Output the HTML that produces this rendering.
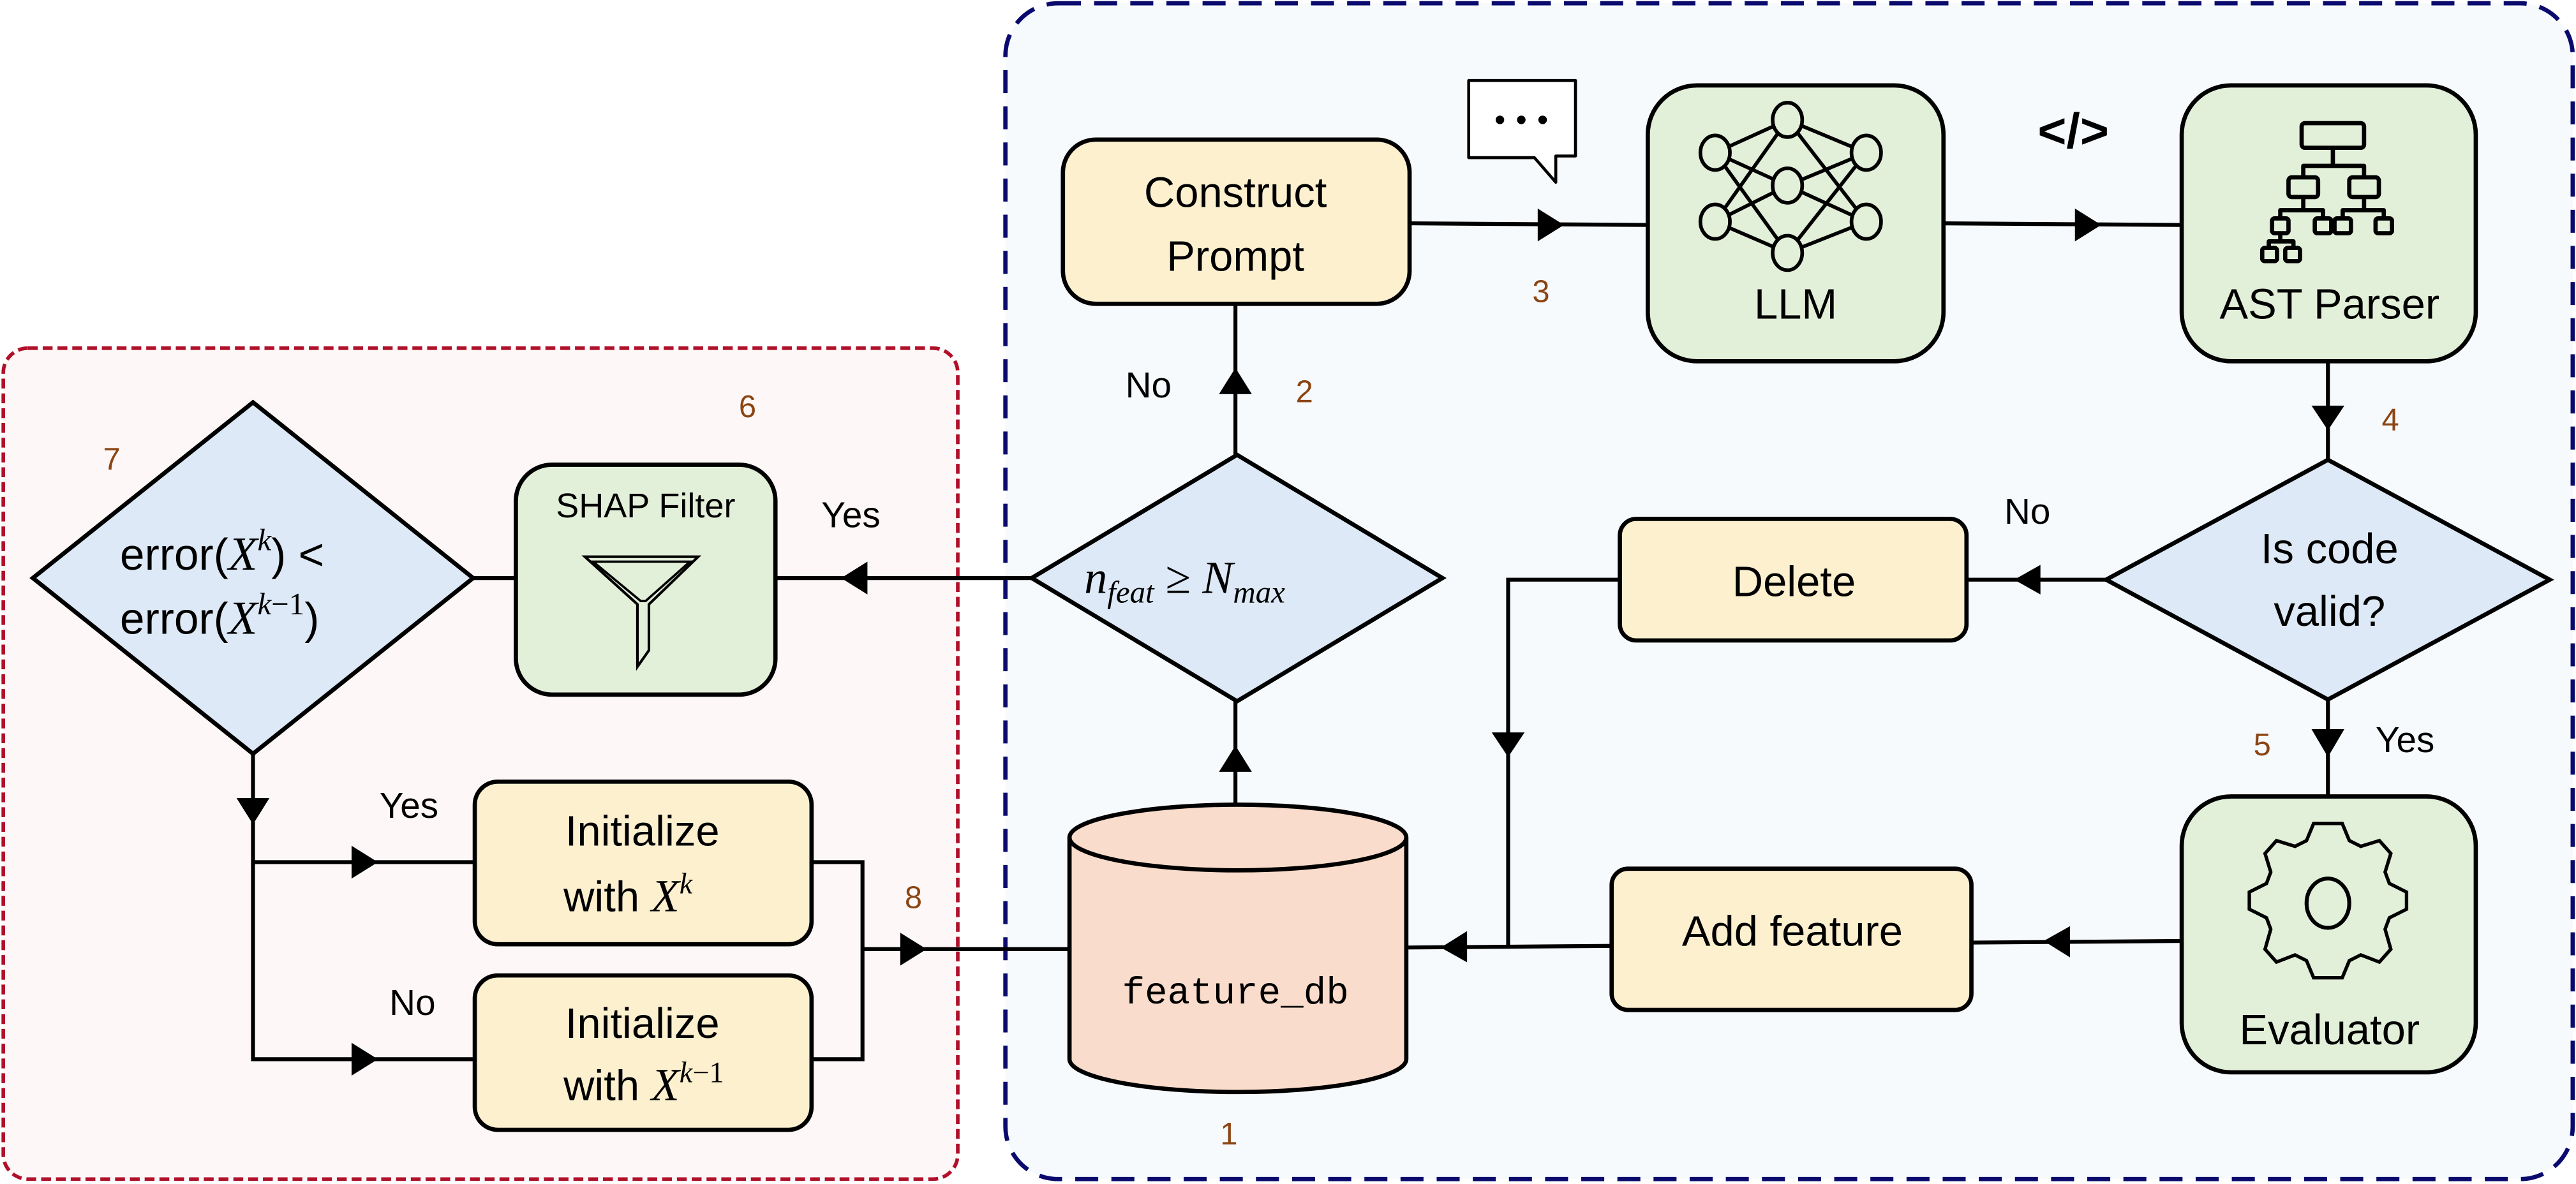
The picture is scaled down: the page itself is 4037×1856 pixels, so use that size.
<!DOCTYPE html>
<html><head><meta charset="utf-8"><style>html,body{margin:0;padding:0;background:#fff}svg{display:block}</style></head><body>
<svg width="4037" height="1856" viewBox="0 0 1568 721" preserveAspectRatio="none" xmlns="http://www.w3.org/2000/svg" font-family="Liberation Sans, sans-serif">
<!-- containers -->
<rect x="612" y="2" width="954" height="716" rx="32" fill="#f6fafd" stroke="#0a0a6e" stroke-width="2.6" stroke-dasharray="14 8"/>
<rect x="2" y="212" width="581" height="506" rx="15" fill="#fdf8f7" stroke="#b0102a" stroke-width="2.2" stroke-dasharray="6 3"/>

<g stroke="#000" stroke-width="2.4" fill="none">
<line x1="858" y1="136" x2="1003" y2="137"/>
<line x1="1183" y1="136" x2="1328" y2="137"/>
<line x1="1417" y1="220" x2="1417" y2="280"/>
<line x1="1282" y1="353" x2="1197" y2="353"/>
<polyline points="986,353 918,353 918,577"/>
<line x1="1417" y1="426" x2="1417" y2="485"/>
<line x1="1328" y1="573" x2="1200" y2="574"/>
<line x1="981" y1="576" x2="856" y2="577"/>
<line x1="752" y1="490" x2="752" y2="427"/>
<line x1="752" y1="277" x2="752" y2="185"/>
<line x1="628" y1="352" x2="472" y2="352"/>
<line x1="314" y1="352" x2="288" y2="352"/>
<polyline points="154,459 154,645 289,645"/>
<line x1="154" y1="525" x2="289" y2="525"/>
<polyline points="494,525 525,525 525,645 494,645"/>
<line x1="525" y1="578" x2="651" y2="578"/>
</g>
<g fill="#000">
<polygon points="936,127 952,137 936,147"/>
<polygon points="1263,127 1279,137 1263,147"/>
<polygon points="1407,247 1427,247 1417,262"/>
<polygon points="1242,344 1242,362 1226,353"/>
<polygon points="908,446 928,446 918,461"/>
<polygon points="1407,444 1427,444 1417,461"/>
<polygon points="1260,564 1260,583 1244,573"/>
<polygon points="893,567 893,586 877,577"/>
<polygon points="742,470 762,470 752,454"/>
<polygon points="742,240 762,240 752,224"/>
<polygon points="528,342 528,362 512,352"/>
<polygon points="144,486 164,486 154,502"/>
<polygon points="214,515 214,535 230,525"/>
<polygon points="214,635 214,655 230,645"/>
<polygon points="548,568 548,588 564,578"/>
</g>

<g stroke="#000" stroke-width="2.6">
<rect x="647" y="85" width="211" height="100" rx="20" fill="#fdf0cf"/>
<rect x="1003" y="52" width="180" height="168" rx="30" fill="#e2efd9"/>
<rect x="1328" y="52" width="179" height="168" rx="30" fill="#e2efd9"/>
<polygon points="1282,353 1417,280 1552,353 1417,426" fill="#dde9f6"/>
<rect x="986" y="316" width="211" height="74" rx="10" fill="#fdf0cf"/>
<rect x="1328" y="485" width="179" height="168" rx="30" fill="#e2efd9"/>
<rect x="981" y="529" width="219" height="86" rx="10" fill="#fdf0cf"/>
<polygon points="628,352 753,277 878,352 753,427" fill="#dde9f6"/>
<path d="M651,510 L651,645 A102.5,20 0 0 0 856,645 L856,510 A102.5,20 0 0 0 651,510 Z" fill="#f9dccb"/>
<path d="M651,510 A102.5,20 0 0 0 856,510" fill="none"/>
<rect x="314" y="283" width="158" height="140" rx="22" fill="#e2efd9"/>
<polygon points="20,352 154,245 288,352 154,459" fill="#dde9f6"/>
<rect x="289" y="476" width="205" height="99" rx="14" fill="#fdf0cf"/>
<rect x="289" y="594" width="205" height="94" rx="14" fill="#fdf0cf"/>
</g>

<path d="M894,49 H959 V95 H947 V111 L934,96 H894 Z" fill="#fff" stroke="#000" stroke-width="1.8" stroke-linejoin="round"/>
<circle cx="913" cy="73" r="2.6"/><circle cx="926" cy="73" r="2.6"/><circle cx="939" cy="73" r="2.6"/>
<text x="1262" y="90" font-size="30" font-weight="bold" text-anchor="middle">&lt;/&gt;</text>

<g stroke="#000" stroke-width="2.2" fill="none">
<line x1="1044" y1="93" x2="1088" y2="73"/><line x1="1044" y1="93" x2="1088" y2="113"/><line x1="1044" y1="93" x2="1088" y2="154"/>
<line x1="1044" y1="135" x2="1088" y2="73"/><line x1="1044" y1="135" x2="1088" y2="113"/><line x1="1044" y1="135" x2="1088" y2="154"/>
<line x1="1136" y1="93" x2="1088" y2="73"/><line x1="1136" y1="93" x2="1088" y2="113"/><line x1="1136" y1="93" x2="1088" y2="154"/>
<line x1="1136" y1="135" x2="1088" y2="73"/><line x1="1136" y1="135" x2="1088" y2="113"/><line x1="1136" y1="135" x2="1088" y2="154"/>
<g fill="#e2efd9">
<ellipse cx="1088" cy="73" rx="9" ry="10.5"/><ellipse cx="1088" cy="113" rx="9" ry="10.5"/><ellipse cx="1088" cy="154" rx="9" ry="10.5"/>
<ellipse cx="1044" cy="93" rx="9" ry="10.5"/><ellipse cx="1044" cy="135" rx="9" ry="10.5"/>
<ellipse cx="1136" cy="93" rx="9" ry="10.5"/><ellipse cx="1136" cy="135" rx="9" ry="10.5"/>
</g>
</g>

<g stroke="#000" stroke-width="2.6" fill="none" stroke-linejoin="round">
<rect x="1401" y="75" width="38" height="15" rx="2"/>
<polyline points="1420,90 1420,101"/>
<polyline points="1402,108 1402,101 1439,101 1439,108"/>
<rect x="1393" y="108" width="18" height="12" rx="2"/><rect x="1430" y="108" width="18" height="12" rx="2"/>
<line x1="1402" y1="120" x2="1402" y2="128"/><line x1="1439" y1="120" x2="1439" y2="128"/>
<polyline points="1388,133 1388,128 1414,128 1414,133"/>
<polyline points="1426,133 1426,128 1451,128 1451,133"/>
<rect x="1383" y="133" width="10" height="9" rx="1.5"/><rect x="1409" y="133" width="10" height="9" rx="1.5"/>
<rect x="1421" y="133" width="10" height="9" rx="1.5"/><rect x="1446" y="133" width="10" height="9" rx="1.5"/>
<line x1="1388" y1="142" x2="1388" y2="147"/>
<polyline points="1381,151 1381,147 1396,147 1396,151"/>
<rect x="1377" y="151" width="9" height="8" rx="1.5"/><rect x="1391" y="151" width="9" height="8" rx="1.5"/>
</g>

<g transform="translate(1417,548)">
<path d="M-10,-42 L10,-42 L15,-30 L23,-26 L36,-30 L44,-21 L40,-8 L43,0 L55,6 L55,18 L43,24 L40,32 L44,46 L36,55 L23,50 L15,54 L10,66 L-10,66 L-15,54 L-23,50 L-36,55 L-44,46 L-40,32 L-43,24 L-55,18 L-55,6 L-43,0 L-40,-8 L-44,-21 L-36,-30 L-23,-26 L-15,-30 Z" transform="translate(0,-10) scale(0.87)" fill="none" stroke="#000" stroke-width="2.4"/>
<ellipse cx="0" cy="2" rx="13" ry="15" fill="none" stroke="#000" stroke-width="2.4"/>
</g>

<!-- funnel -->
<path d="M356,339 L425,339 L395,368 L395,396 L388,406 L388,368 Z" fill="none" stroke="#000" stroke-width="1.6" stroke-linejoin="miter"/>
<path d="M361,342 L420,342 L393,366 L390,366 Z" fill="none" stroke="#000" stroke-width="1.4"/>

<g font-size="26" text-anchor="middle" fill="#000">
<text x="752" y="126">Construct</text>
<text x="752" y="165">Prompt</text>
<text x="1093" y="194">LLM</text>
<text x="1418" y="194">AST Parser</text>
<text x="1418" y="343">Is code</text>
<text x="1418" y="381">valid?</text>
<text x="1092" y="363">Delete</text>
<text x="1418" y="636">Evaluator</text>
<text x="1091" y="576">Add feature</text>
<text x="393" y="315" font-size="21">SHAP Filter</text>
<text x="391" y="515">Initialize</text>
<text x="391" y="632">Initialize</text>
</g>
<text x="752" y="611" font-size="23" text-anchor="middle" font-family="Liberation Mono, monospace">feature_db</text>
<g font-size="26">
<text x="343" y="555">with <tspan font-family="Liberation Serif, serif" font-style="italic" font-size="28">X</tspan><tspan font-family="Liberation Serif, serif" font-style="italic" font-size="18" dy="-11">k</tspan></text>
<text x="343" y="670">with <tspan font-family="Liberation Serif, serif" font-style="italic" font-size="28">X</tspan><tspan font-family="Liberation Serif, serif" font-size="18" dy="-11"><tspan font-style="italic">k</tspan>−1</tspan></text>
<text x="73" y="347" font-size="27">error(<tspan font-family="Liberation Serif, serif" font-style="italic" font-size="29">X</tspan><tspan font-family="Liberation Serif, serif" font-style="italic" font-size="19" dy="-12">k</tspan><tspan dy="12">) &lt;</tspan></text>
<text x="73" y="386" font-size="27">error(<tspan font-family="Liberation Serif, serif" font-style="italic" font-size="29">X</tspan><tspan font-family="Liberation Serif, serif" font-size="19" dy="-12"><tspan font-style="italic">k</tspan>−1</tspan><tspan dy="12">)</tspan></text>
<text x="660" y="361" font-family="Liberation Serif, serif" font-size="28"><tspan font-style="italic">n</tspan><tspan font-style="italic" font-size="19" dy="6">feat</tspan><tspan dy="-6"> ≥ </tspan><tspan font-style="italic">N</tspan><tspan font-style="italic" font-size="19" dy="6">max</tspan></text>
</g>
<g font-size="22" fill="#000">
<text x="685" y="242">No</text>
<text x="1220" y="319">No</text>
<text x="1446" y="458">Yes</text>
<text x="500" y="321">Yes</text>
<text x="231" y="498">Yes</text>
<text x="237" y="618">No</text>
</g>
<g font-size="19" fill="#8b4513" text-anchor="middle">
<text x="938" y="184">3</text>
<text x="794" y="245">2</text>
<text x="1455" y="262">4</text>
<text x="1377" y="460">5</text>
<text x="455" y="254">6</text>
<text x="68" y="286">7</text>
<text x="556" y="553">8</text>
<text x="748" y="697">1</text>
</g>
</svg>
</body></html>
